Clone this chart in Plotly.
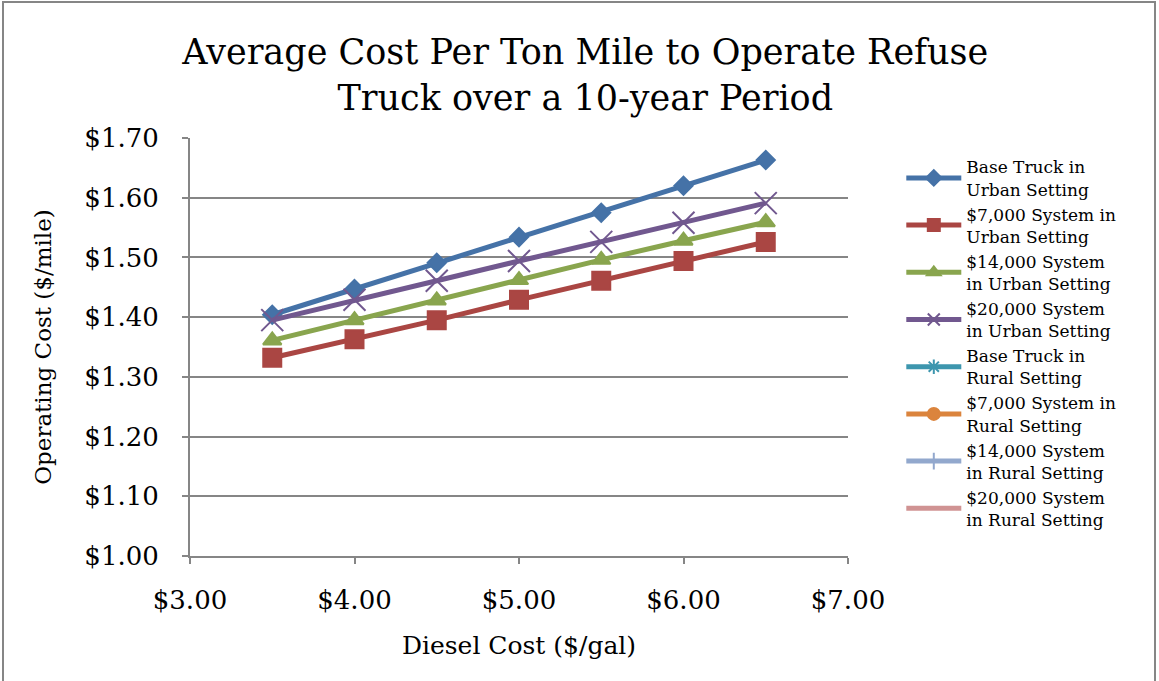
import plotly.graph_objects as go

diesel = [3.5, 4.0, 4.5, 5.0, 5.5, 6.0, 6.5]

base_urban = [1.404, 1.447, 1.491, 1.534, 1.575, 1.620, 1.663]
sys7k_urban = [1.332, 1.363, 1.395, 1.429, 1.461, 1.494, 1.526]
sys14k_urban = [1.361, 1.395, 1.428, 1.462, 1.496, 1.528, 1.559]
sys20k_urban = [1.395, 1.429, 1.461, 1.494, 1.526, 1.558, 1.591]

# rural series only appear in the legend, nothing is plotted for them
base_rural = [None, None, None, None, None, None, None]
sys7k_rural = [None, None, None, None, None, None, None]
sys14k_rural = [None, None, None, None, None, None, None]
sys20k_rural = [None, None, None, None, None, None, None]

names = ['Base Truck in<br>Urban Setting', '$7,000 System in<br>Urban Setting',
         '$14,000 System<br>in Urban Setting', '$20,000 System<br>in Urban Setting',
         'Base Truck in<br>Rural Setting', '$7,000 System in<br>Rural Setting',
         '$14,000 System<br>in Rural Setting', '$20,000 System<br>in Rural Setting']
series = [base_urban, sys7k_urban, sys14k_urban, sys20k_urban,
          base_rural, sys7k_rural, sys14k_rural, sys20k_rural]
colors = ['#4572A7', '#AA4643', '#89A54E', '#71588F', '#3D96AE', '#DB843D', '#92A8CD', '#D09393']
symbols = ['diamond', 'square', 'triangle-up', 'x-thin-open', 'asterisk-open', 'circle',
           'line-ns-open', 'line-ew-open']
sizes = [14, 18, 16, 22, 12, 14, 12, 12]

font = 'DejaVu Serif'

fig = go.Figure()
for name, ys, col, sym, sz in zip(names, series, colors, symbols, sizes):
    fig.add_trace(go.Scatter(
        x=diesel, y=ys, name=name, mode='lines+markers',
        line=dict(color=col, width=5),
        marker=dict(symbol=sym, size=sz, color=col, line=dict(color=col, width=2)),
    ))

fig.update_layout(
    width=1159, height=681,
    paper_bgcolor='white', plot_bgcolor='white',
    margin=dict(l=190, r=311, t=138, b=125, autoexpand=False),
    font=dict(family=font, color='black'),
    title=dict(text='Average Cost Per Ton Mile to Operate Refuse<br>Truck over a 10-year Period',
               x=0.505, xanchor='center', y=1 - 64 / 681, yanchor='top',
               font=dict(size=35, family=font)),
    xaxis=dict(range=[3, 7], dtick=1, tickformat='$.2f', showgrid=False,
               showline=True, linecolor='#868686', linewidth=2,
               ticks='outside', ticklen=6, tickcolor='#868686', tickwidth=2,
               ticklabelstandoff=14, tickfont=dict(size=26),
               title=dict(text='Diesel Cost ($/gal)', font=dict(size=25), standoff=22)),
    yaxis=dict(range=[1.0, 1.7], dtick=0.1, tickformat='$.2f',
               showgrid=True, gridcolor='#868686', gridwidth=2,
               showline=True, linecolor='#868686', linewidth=2,
               ticks='outside', ticklen=6, tickcolor='#868686', tickwidth=2,
               ticklabelstandoff=18, tickfont=dict(size=26), zeroline=False,
               title=dict(text='Operating Cost ($/mile)', font=dict(size=23), standoff=26)),
    legend=dict(x=1.081, xanchor='left', y=0.973, yanchor='top', itemwidth=55,
                itemsizing='constant', font=dict(size=17), tracegroupgap=0, maxheight=600,
                bgcolor='rgba(0,0,0,0)'),
    showlegend=True,
    shapes=[dict(type='rect', xref='paper', yref='paper',
                 x0=-187 / 658, x1=965 / 658, y0=-140 / 418, y1=554 / 418,
                 line=dict(color='#868686', width=2), fillcolor='rgba(0,0,0,0)')],
)

fig.write_html('out.html', config={'displayModeBar': False},
               post_script="document.body.style.margin='0';")
